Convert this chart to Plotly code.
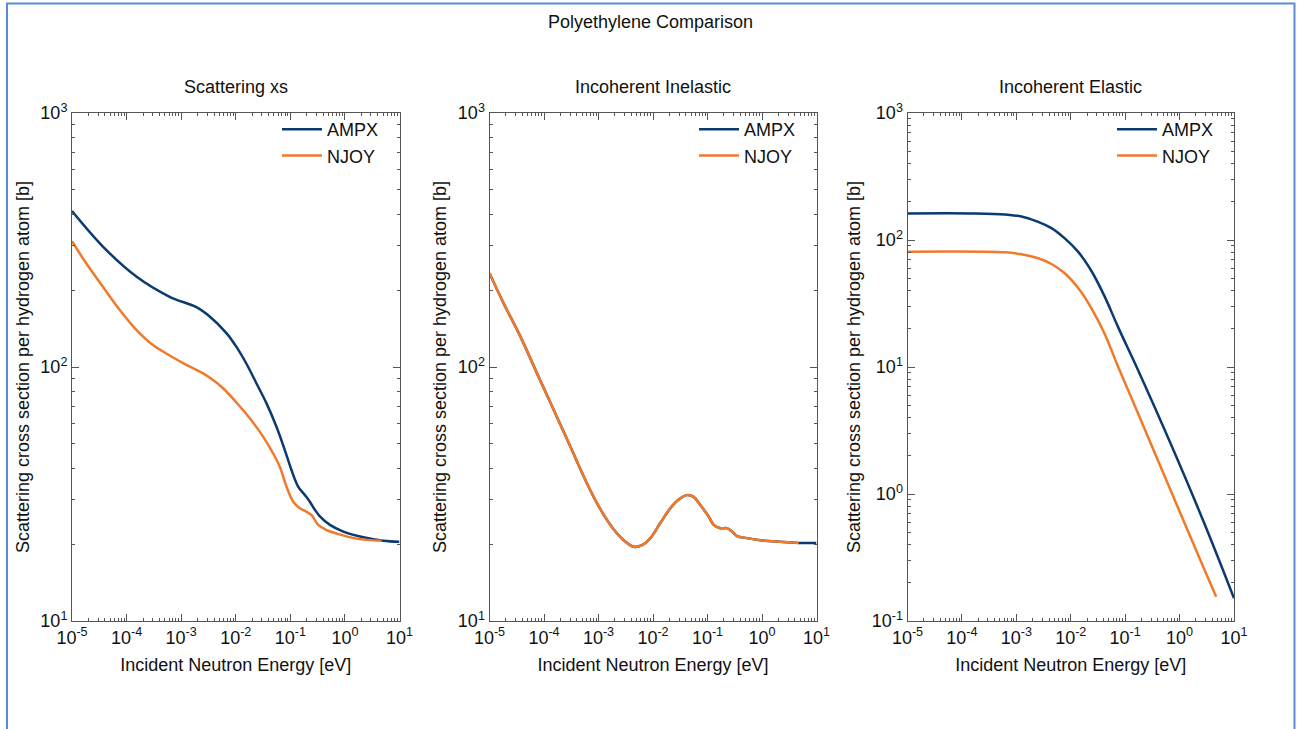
import plotly.graph_objects as go

# ---------------- data ----------------
# Panel 1: Scattering xs
e_scat_ampx = [1e-5, 3.68e-5, 1.51e-4, 6.15e-4, 1.90e-3, 3.33e-3, 6.75e-3, 1.03e-2, 1.57e-2,
               2.39e-2, 3.66e-2, 5.57e-2, 7.92e-2, 0.105, 0.139, 0.185, 0.228, 0.282, 0.348,
               0.531, 0.931, 1.88, 5.05, 10.0]
xs_scat_ampx = [411, 298, 227, 189, 172, 158, 136, 120, 103,
                86.3, 71.9, 58.2, 47.1, 39.3, 33.8, 31.3, 29.5, 27.4, 25.8,
                23.9, 22.5, 21.5, 20.7, 20.5]
e_scat_njoy = [1e-5, 1.82e-5, 3.68e-5, 7.45e-5, 1.51e-4, 3.04e-4, 6.15e-4, 1.24e-3, 2.52e-3,
               3.84e-3, 5.86e-3, 1.03e-2, 1.81e-2, 3.17e-2, 4.84e-2, 6.41e-2, 8.51e-2, 0.113,
               0.149, 0.198, 0.245, 0.324, 0.461, 0.703, 1.64, 4.71]
xs_scat_njoy = [313, 256, 207, 168, 140, 122, 111, 102, 94.4,
                88.9, 82.5, 72.5, 62.8, 53.2, 45.7, 40.5, 33.8, 29.5,
                27.8, 26.9, 26.1, 23.9, 22.8, 22.1, 21.1, 20.7]

# Panel 2: Incoherent Inelastic (both codes coincide; NJOY stops near 5 eV)
e_inel = [1e-5, 1.82e-5, 3.68e-5, 7.45e-5, 1.51e-4, 3.04e-4, 6.15e-4, 9.37e-4, 1.43e-3,
          2.04e-3, 2.90e-3, 4.42e-3, 6.28e-3, 8.93e-3, 1.36e-2, 2.08e-2, 2.96e-2, 4.21e-2,
          5.57e-2, 7.38e-2, 0.105, 0.130, 0.172, 0.228, 0.282, 0.348, 0.531, 0.931, 2.17,
          4.71, 10.0]
xs_inel_ampx = [234, 178, 132, 94.4, 67.7, 48.6, 34.8, 29.1, 25.0,
                22.5, 20.8, 19.6, 19.9, 21.2, 24.3, 27.8, 30.1, 31.3,
                30.8, 28.6, 25.8, 23.9, 23.2, 23.2, 22.5, 21.6, 21.2, 20.8, 20.5,
                20.3, 20.3]
xs_inel_njoy = [234, 178, 132, 94.4, 67.7, 48.6, 34.8, 29.1, 25.0,
                22.5, 20.8, 19.6, 19.9, 21.2, 24.3, 27.8, 30.1, 31.3,
                30.8, 28.6, 25.8, 23.9, 23.2, 23.2, 22.5, 21.6, 21.2, 20.8, 20.5,
                20.3]

# Panel 3: Incoherent Elastic
e_el_ampx = [1e-5, 1.51e-4, 6.15e-4, 1.24e-3, 2.52e-3, 4.42e-3, 7.76e-3, 1.36e-2, 2.40e-2,
             4.21e-2, 7.38e-2, 0.172, 0.703, 2.88, 10.0]
xs_el_ampx = [162, 162, 159, 153, 139, 124, 103, 81.0, 57.0,
              35.8, 20.7, 9.47, 2.43, 0.58, 0.151]
e_el_njoy = [1e-5, 6.15e-4, 1.24e-3, 2.52e-3, 4.42e-3, 7.76e-3, 1.36e-2, 2.40e-2, 4.21e-2,
             7.38e-2, 0.172, 0.703, 2.88, 4.71]
xs_el_njoy = [80.9, 80.0, 77.1, 71.8, 64.7, 54.7, 42.0, 29.0, 18.2,
              10.1, 4.32, 1.04, 0.252, 0.155]

# axis tick labels
x_tickvals = [1e-5, 1e-4, 1e-3, 1e-2, 1e-1, 1e0, 1e1]
x_ticktext = ["10<sup>-5</sup>", "10<sup>-4</sup>", "10<sup>-3</sup>", "10<sup>-2</sup>",
              "10<sup>-1</sup>", "10<sup>0</sup>", "10<sup>1</sup>"]
y_tickvals_12 = [10, 100, 1000]
y_ticktext_12 = ["10<sup>1</sup>", "10<sup>2</sup>", "10<sup>3</sup>"]
y_tickvals_3 = [0.1, 1, 10, 100, 1000]
y_ticktext_3 = ["10<sup>-1</sup>", "10<sup>0</sup>", "10<sup>1</sup>", "10<sup>2</sup>", "10<sup>3</sup>"]

panel_titles = ["Scattering xs", "Incoherent Inelastic", "Incoherent Elastic"]
series_names = ["AMPX", "NJOY"]

# ---------------- style ----------------
C_AMPX = "#0b3a70"
C_NJOY = "#f07a2a"
FONT = "Liberation Sans, Arial, Helvetica, sans-serif"
AX_COL = "#555555"
FS = 18

W, H = 1301, 729
ML, MR, MT, MB = 72, 67, 113, 108
PW = W - ML - MR
PH = H - MT - MB


def px(x):
    return (x - ML) / PW


def py(y):
    return (H - MB - y) / PH


domains = [(0.0, px(399.5)), (px(489.5), px(816.5)), (px(907.5), 1.0)]

fig = go.Figure()

panels = [
    (e_scat_ampx, xs_scat_ampx, e_scat_njoy, xs_scat_njoy),
    (e_inel, xs_inel_ampx, e_inel[:len(xs_inel_njoy)], xs_inel_njoy),
    (e_el_ampx, xs_el_ampx, e_el_njoy, xs_el_njoy),
]
legend_keys = ["legend", "legend2", "legend3"]

for i, (ea, ya, en, yn) in enumerate(panels):
    sfx = "" if i == 0 else str(i + 1)
    fig.add_trace(go.Scatter(x=ea, y=ya, mode="lines", name=series_names[0],
                             line=dict(color=C_AMPX, width=2.5, shape="spline", smoothing=1.0),
                             xaxis="x" + sfx, yaxis="y" + sfx, legend=legend_keys[i]))
    fig.add_trace(go.Scatter(x=en, y=yn, mode="lines", name=series_names[1],
                             line=dict(color=C_NJOY, width=2.5, shape="spline", smoothing=1.0),
                             xaxis="x" + sfx, yaxis="y" + sfx, legend=legend_keys[i]))

layout = dict(
    width=W, height=H,
    margin=dict(l=ML, r=MR, t=MT, b=MB),
    paper_bgcolor="white", plot_bgcolor="white",
    font=dict(family=FONT, size=FS, color="#111111"),
    title=dict(text="Polyethylene Comparison", x=0.5, xanchor="center",
               y=1 - 22 / H, yanchor="middle", font=dict(size=FS)),
    showlegend=True,
)

for i in range(3):
    sfx = "" if i == 0 else str(i + 1)
    xa = dict(
        type="log", domain=list(domains[i]), range=[-5, 1], anchor="y" + sfx,
        tickmode="array", tickvals=x_tickvals, ticktext=x_ticktext,
        ticks="inside", ticklen=7, tickcolor=AX_COL, tickwidth=1,
        showline=True, linecolor=AX_COL, linewidth=1, mirror="allticks",
        showgrid=False, zeroline=False, tickfont=dict(size=FS),
        minor=dict(ticks="inside", ticklen=3, tickcolor=AX_COL, dtick="D1", showgrid=False),
        title=dict(text="Incident Neutron Energy [eV]", font=dict(size=FS), standoff=11),
    )
    if i < 2:
        yr, tv, tt = [1, 3], y_tickvals_12, y_ticktext_12
    else:
        yr, tv, tt = [-1, 3], y_tickvals_3, y_ticktext_3
    ya = dict(
        type="log", domain=[0, 1], range=yr, anchor="x" + sfx,
        tickmode="array", tickvals=tv, ticktext=tt,
        ticks="inside", ticklen=7, tickcolor=AX_COL, tickwidth=1,
        showline=True, linecolor=AX_COL, linewidth=1, mirror="allticks",
        showgrid=False, zeroline=False, tickfont=dict(size=FS),
        minor=dict(ticks="inside", ticklen=3, tickcolor=AX_COL, dtick="D1", showgrid=False),
        title=dict(text="Scattering cross section per hydrogen atom [b]", font=dict(size=FS), standoff=6),
    )
    layout["xaxis" + sfx] = xa
    layout["yaxis" + sfx] = ya
    right_px = [384, 801, 1219][i]
    layout[legend_keys[i]] = dict(
        x=px(right_px), xanchor="right", y=py(111), yanchor="top",
        bgcolor="rgba(0,0,0,0)", borderwidth=0, font=dict(size=FS),
        tracegroupgap=0, itemwidth=40,
    )

annotations = []
for i in range(3):
    annotations.append(dict(
        text=panel_titles[i], xref="paper", yref="paper",
        x=(domains[i][0] + domains[i][1]) / 2, y=py(87),
        xanchor="center", yanchor="middle", showarrow=False, font=dict(size=FS)))
layout["annotations"] = annotations

layout["shapes"] = [dict(type="rect", xref="paper", yref="paper",
                         x0=px(7), x1=px(1294.5), y0=py(780), y1=py(3.5),
                         line=dict(color="#5b8bd6", width=2), fillcolor="rgba(0,0,0,0)", layer="below")]

fig.update_layout(**layout)
fig.write_html("out.html", config={"displayModeBar": False},
               post_script="document.body.style.margin='0px';")
